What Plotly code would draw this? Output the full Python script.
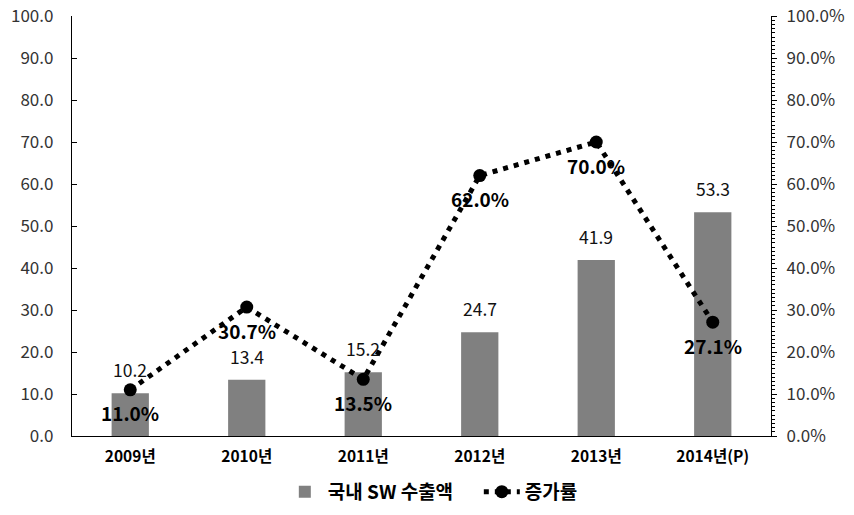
import plotly.graph_objects as go

categories = ["2009년", "2010년", "2011년", "2012년", "2013년", "2014년(P)"]
exports = [10.2, 13.4, 15.2, 24.7, 41.9, 53.3]
growth = [11.0, 30.7, 13.5, 62.0, 70.0, 27.1]
left_ticks = [0, 10, 20, 30, 40, 50, 60, 70, 80, 90, 100]

FONT = "Noto Sans CJK KR"

fig = go.Figure()
fig.add_trace(go.Bar(
    x=categories, y=exports, name="국내 SW 수출액",
    marker=dict(color="#808080", line=dict(width=0)),
    width=0.32,
))
fig.add_trace(go.Scatter(
    x=categories, y=growth, name="증가률", yaxis="y2",
    mode="lines+markers",
    line=dict(color="black", width=5, dash="5px,6px"),
    marker=dict(size=13, color="black"),
    cliponaxis=False,
))

for c, v in zip(categories, exports):
    fig.add_annotation(
        x=c, y=v, xref="x", yref="y", text=f"{v:.1f}",
        showarrow=False, yanchor="bottom", yshift=9,
        font=dict(size=17.5, color="#111111", family=FONT),
    )

for c, g in zip(categories, growth):
    fig.add_annotation(
        x=c, y=g, xref="x", yref="y2", text=f"{g:.1f}%",
        showarrow=False, yshift=-23,
        font=dict(size=19, color="black", family=FONT, weight="bold"),
    )

fig.update_layout(
    width=854, height=515,
    margin=dict(l=72, r=83, t=16, b=79, autoexpand=False),
    paper_bgcolor="white", plot_bgcolor="white",
    font=dict(family=FONT, color="#222222"),
    showlegend=True,
    legend=dict(orientation="h", x=0.33, xanchor="left", xref="container",
                y=0.045, yanchor="middle", yref="container",
                font=dict(size=19, family=FONT, color="black", weight="bold"),
                itemwidth=36, entrywidth=146),
    xaxis=dict(
        showline=True, linecolor="black", linewidth=1.3,
        ticks="", tickfont=dict(size=15.5, family=FONT, color="black", weight="bold"),
        showgrid=False, ticklabelstandoff=6,
    ),
    yaxis=dict(
        range=[0, 100], tickvals=left_ticks, tickformat=".1f",
        showline=True, linecolor="black", linewidth=1.3,
        ticks="inside", ticklen=5, tickcolor="black",
        tickfont=dict(size=17, family=FONT, color="#333333"),
        ticklabelstandoff=14,
        showgrid=False, zeroline=False,
    ),
    yaxis2=dict(
        range=[0, 100], tickvals=left_ticks,
        ticktext=[f"{v:.1f}%" for v in left_ticks],
        overlaying="y", side="right",
        showline=True, linecolor="black", linewidth=1.3,
        ticks="outside", ticklen=5, tickcolor="black",
        minor=dict(dtick=1, ticks="outside", ticklen=3, tickcolor="black"),
        tickfont=dict(size=17, family=FONT, color="#333333"),
        ticklabelstandoff=6,
        showgrid=False, zeroline=False,
    ),
)

fig.write_html("out.html")
